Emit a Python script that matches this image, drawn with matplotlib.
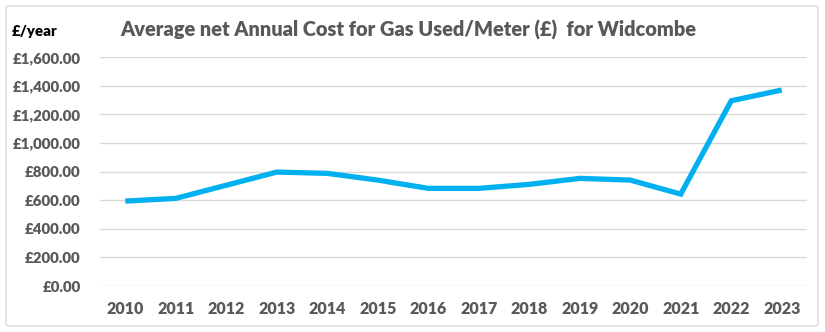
import matplotlib
matplotlib.use("Agg")
import matplotlib.pyplot as plt
from matplotlib.patches import FancyBboxPatch
from matplotlib.ticker import FuncFormatter

years = ["2010", "2011", "2012", "2013", "2014", "2015", "2016",
         "2017", "2018", "2019", "2020", "2021", "2022", "2023"]
cost = [594, 613, 705, 797, 788, 741, 683, 683, 711, 753, 741, 643, 1296, 1371]
yticks = [0, 200, 400, 600, 800, 1000, 1200, 1400, 1600]

FONT = ["Lato", "DejaVu Sans"]
GREY = "#595959"

fig = plt.figure(figsize=(8.25, 3.32), dpi=100)
fig.patch.set_facecolor("white")
border = FancyBboxPatch((6/825, 6/332), 812/825, 320/332,
                        boxstyle="round,pad=0,rounding_size=0.005",
                        transform=fig.transFigure, facecolor="none",
                        edgecolor="#d9d9d9", linewidth=1.0)
fig.patches.append(border)

ax = fig.add_axes([100/825, 1-286/332, 707/825, (286-57.3)/332])
x = list(range(len(years)))
ax.plot(x, cost, color="#00B0F0", linewidth=3.8, solid_capstyle="butt",
        solid_joinstyle="miter", zorder=3)
ax.set_xlim(-0.5, len(years) - 0.5)
ax.set_ylim(0, 1600)
ax.set_yticks(yticks)
ax.yaxis.set_major_formatter(FuncFormatter(lambda v, p: f"£{v:,.2f}"))
ax.set_xticks(x)
ax.set_xticklabels(years)
ax.grid(axis="y", color="#d9d9d9", linewidth=1.0)
ax.set_axisbelow(True)
for s in ax.spines.values():
    s.set_visible(False)
ax.tick_params(axis="both", length=0, colors=GREY)
ax.tick_params(axis="y", pad=14, labelsize=10.8)
ax.tick_params(axis="x", pad=11, labelsize=11.5)
for lab in ax.get_xticklabels() + ax.get_yticklabels():
    lab.set_fontweight("heavy")
    lab.set_family(FONT)
    lab.set_color(GREY)

fig.text(120/825, 1-30/332, "Average net Annual Cost for Gas Used/Meter (£)  for Widcombe",
         fontsize=14.4, fontweight="heavy", color=GREY, family=FONT, va="center", ha="left")
fig.text(12/825, 1-31/332, "£/year", fontsize=10.8, fontweight="heavy", color="black",
         family=FONT, va="center", ha="left")

fig.savefig("out.png", dpi=100, facecolor="white")
